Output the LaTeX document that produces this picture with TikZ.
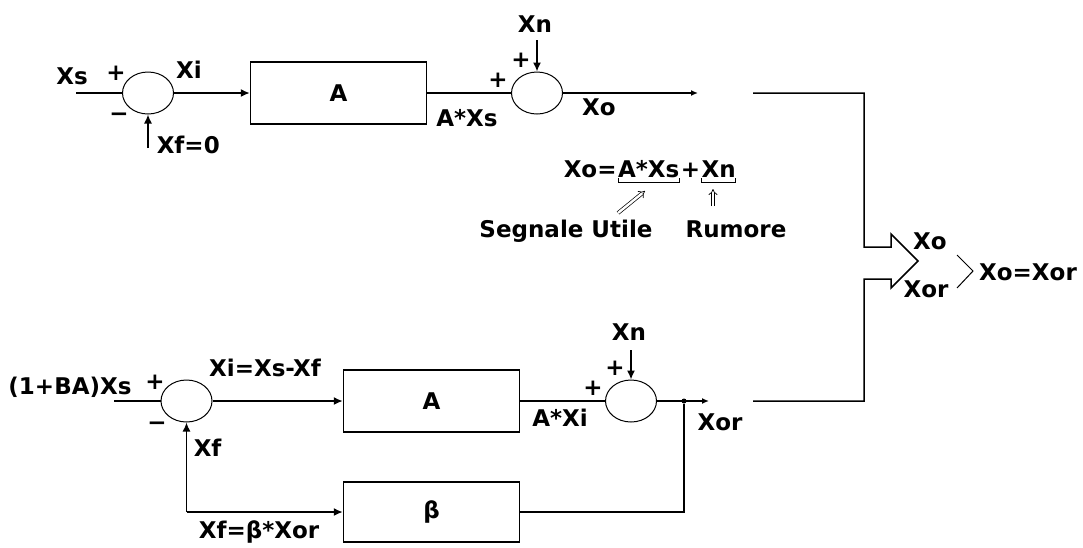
\documentclass[tikz,border=0pt]{standalone}
\usepackage{fontspec}
\setmainfont{DejaVu Sans}
\usetikzlibrary{arrows.meta,positioning,calc,shapes.geometric}

\begin{document}
\begin{tikzpicture}[x=1pt,y=-1pt,line width=1.5pt,
 font=\fontsize{23}{26}\selectfont\bfseries,
 blk/.style={draw,minimum width=176pt,minimum height=62pt,inner sep=0pt},
 summ/.style={draw,ellipse,line width=1pt,minimum width=51pt,minimum height=42pt,inner sep=0pt},
 lbl/.style={inner sep=0pt,anchor=base},
 sgn/.style={inner sep=0pt},
 arr/.style={-{Latex[length=9pt,width=8pt]}},
 outarr/.style={-{Latex[length=7pt,width=6pt]}},
 dblarr/.style={double,double distance=2.4pt,line width=0.7pt,-{Implies}}]
\useasboundingbox (0,0) rectangle (1083,547);
% open loop, Xf=0
\coordinate (xs) at (76,93);
\node[summ] (s1) at (148,93) {};
\node[blk] (A1) at (338.5,93) {A};
\node[summ] (s2) at (537,93) {};
\coordinate (xo) at (698,93);
\coordinate (xf0) at (148,148);
\coordinate (xn1) at (537,40);
\draw (xs)--(s1.west);\draw[arr] (s1.east)--(A1.west);
\draw (A1.east)--(s2.west);\draw[outarr] (s2.east)--(xo);
\draw[arr] (xf0)--(s1.south);\draw[arr] (xn1)--(s2.north);
\node[lbl] (lxs) at (72,84) {Xs};
\node[sgn] (p1) at (116,73) {+};
\node[sgn] (m1) at (119,117) {−};
\node[lbl] (lxi) at (189,78) {Xi};
\node[lbl,anchor=base west] (lxf0) at (156,153) {Xf=0};
\node[lbl] (lax) at (467,126) {A*Xs};
\node[sgn] (p2) at (498,80) {+};
\node[sgn] (p3) at (521,60) {+};
\node[lbl] (lxn1) at (535,32) {Xn};
\node[lbl] (lxo) at (599,115) {Xo};
% output equation
\node[lbl,anchor=base west] (eq1) at (563,177) {Xo=};
\node[lbl,anchor=base west] (eq2) at (eq1.base east) {A*Xs};
\node[lbl,anchor=base west] (eq3) at (eq2.base east) {+};
\node[lbl,anchor=base west] (eq4) at (eq3.base east) {Xn};
\draw[line width=1pt] ($(eq2.base west)+(1,1)$)--++(0,4)-|($(eq2.base east)+(-1,1)$);
\draw[line width=1pt] ($(eq4.base west)+(1,1)$)--++(0,4)-|($(eq4.base east)+(-1,1)$);
\node[lbl] (su) at (566,237) {Segnale Utile};
\node[lbl] (ru) at (736,237) {Rumore};
\coordinate (u1) at (618,213);\coordinate (u2) at (645,191);
\coordinate (r1) at (713,206);\coordinate (r2) at (713,189);
\draw[dblarr] (u1)--(u2);\draw[dblarr] (r1)--(r2);
% comparison
\coordinate (o1) at (753,93);
\coordinate (o2) at (753,401);
\coordinate (mtip) at (918,261);
\draw (o1)-|(864,247)--(891,247)--(891,234)--(mtip)--(891,288)--(891,279)--(864,279)|-(o2);
\node[lbl] (lmo) at (930,249) {Xo};
\node[lbl] (lmor) at (926,297) {Xor};
\draw[line width=1pt] (957,255)--(973,271)--(957,288);
\node[lbl] (lres) at (1028,280) {Xo=Xor};
% closed loop with feedback
\coordinate (xsb) at (114,401);
\node[summ] (s3) at (186.5,401) {};
\node[blk] (A2) at (431.5,401) {A};
\node[summ] (s4) at (631,401) {};
\node[blk,minimum height=60pt] (B) at (431.5,512) {β};
\coordinate (xn2) at (631,350);
\coordinate (xor) at (709,401);
\coordinate (fb) at (186.5,512);
\node[circle,fill,inner sep=0pt,minimum size=5pt] (br) at (684,401) {};
\draw (xsb)--(s3.west);\draw[arr] (s3.east)--(A2.west);
\draw (A2.east)--(s4.west);\draw[outarr] (s4.east)--(xor);
\draw[arr] (xn2)--(s4.north);
\draw (br)|-(B.east);
\draw[arr] (fb)--(B.west);\draw[arr] (fb)--(s3.south);
\node[lbl] (lxsb) at (70,394) {(1+BA)Xs};
\node[sgn] (p4) at (155,382) {+};
\node[sgn] (m2) at (157,426) {−};
\node[lbl] (lxi2) at (265,376) {Xi=Xs-Xf};
\node[lbl] (lax2) at (560,426) {A*Xi};
\node[sgn] (p5) at (593,388) {+};
\node[sgn] (p6) at (615,368) {+};
\node[lbl] (lxn2) at (629,340) {Xn};
\node[lbl] (lxor) at (720,430) {Xor};
\node[lbl,anchor=base west] (lxf) at (193,456) {Xf};
\node[lbl] (lxfb) at (259,538) {Xf=β*Xor};
\end{tikzpicture}
\end{document}
